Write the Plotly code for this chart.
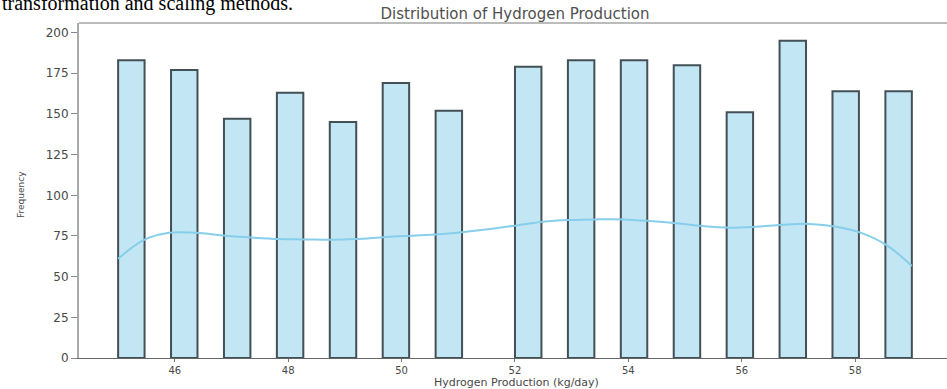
import math
import plotly.graph_objects as go

# Hydrogen production values (kg/day) and how often each occurs
production = [45, 46, 47, 48, 49, 50, 51, 52, 53, 54, 55, 56, 57, 58, 59]
frequency = [183, 177, 147, 163, 145, 169, 152, 179, 183, 183, 180, 151, 195, 164, 164]

# Smoothed density curve (scaled to counts), sampled along the x axis
kde_x = [45.0, 45.45, 45.9, 46.36, 46.9, 47.36, 47.83, 48.3, 48.77, 49.19, 49.72,
         50.18, 50.66, 51.13, 51.6, 52.03, 52.5, 52.97, 53.44, 53.9, 54.38, 54.85,
         55.3, 55.79, 56.26, 56.72, 57.2, 57.67, 58.13, 58.58, 59.0]
kde_y = [61, 72.5, 77, 77, 75.2, 74, 73.1, 72.9, 72.7, 73.1, 74.4,
         75.2, 76, 77.6, 79.5, 81.5, 83.8, 84.8, 85.2, 85.2, 84.2, 82.8,
         81.1, 80.1, 80.7, 81.9, 82.4, 80.7, 76.6, 68.8, 56.5]

# 30 equal-width bins spanning the data range
n_bins = 30
lo, hi = min(production), max(production)
bin_w = (hi - lo) / n_bins
bin_left = [lo + min(int(math.floor((v - lo) / bin_w + 1e-9)), n_bins - 1) * bin_w
            for v in production]

W, H = 947, 389
L, R, T, B = 79, 0, 23, 31
plot_w, plot_h = W - L - R, H - T - B


def px_to_paper_y(py):
    return 1 + (T - py) / plot_h


def px_to_paper_x(px):
    return (px - L) / plot_w


fig = go.Figure()
fig.add_trace(go.Bar(
    x=bin_left, y=frequency, width=bin_w, offset=0,
    marker=dict(color="rgba(135,206,235,0.5)",
                line=dict(color="rgba(50,62,68,0.9)", width=2)),
    hoverinfo="x+y", showlegend=False,
))
fig.add_trace(go.Scatter(
    x=kde_x, y=kde_y, mode="lines", line=dict(color="#87CEEB", width=2, shape="spline"),
    showlegend=False,
))

grey_text = "#484848"

fig.update_layout(
    width=W, height=H,
    margin=dict(l=L, r=R, t=T, b=B),
    paper_bgcolor="white", plot_bgcolor="white",
    title=dict(text="Distribution of Hydrogen Production",
               font=dict(family="DejaVu Sans", size=15, color="#505050"),
               x=515 / W, xanchor="center", xref="container",
               y=(H - 14) / H, yanchor="middle", yref="container"),
    xaxis=dict(range=[44.31, 59.62], tickmode="array",
               tickvals=[46, 48, 50, 52, 54, 56, 58],
               ticktext=["46", "48", "50", "52", "54", "56", "58"],
               showgrid=False, zeroline=False,
               showline=True, linecolor="#666666", linewidth=1.2,
               ticks="outside", ticklen=3, tickcolor="#777777",
               tickfont=dict(family="DejaVu Sans", size=10, color=grey_text)),
    yaxis=dict(range=[0, 205.9], tickmode="linear", tick0=0, dtick=25,
               showgrid=False, zeroline=False,
               showline=True, linecolor="#aaaaaa", linewidth=2,
               ticks="outside", ticklen=6, tickcolor="#888888",
               tickfont=dict(family="DejaVu Sans", size=12, color=grey_text)),
    shapes=[dict(type="line", xref="paper", yref="paper", x0=0, x1=1, y0=1, y1=1,
                 line=dict(color="#bbbbbb", width=2))],
    annotations=[
        dict(text="transformation and scaling methods.",
             xref="paper", yref="paper",
             x=px_to_paper_x(0), xanchor="left",
             y=px_to_paper_y(17), yanchor="bottom",
             showarrow=False,
             font=dict(family="Liberation Serif", size=20, color="black")),
        dict(text="Hydrogen Production (kg/day)",
             xref="paper", yref="paper",
             x=px_to_paper_x(516), xanchor="center",
             y=px_to_paper_y(382.5), yanchor="middle",
             showarrow=False,
             font=dict(family="DejaVu Sans", size=11, color=grey_text)),
        dict(text="Frequency", textangle=-90,
             xref="paper", yref="paper",
             x=px_to_paper_x(21), xanchor="center",
             y=px_to_paper_y(195), yanchor="middle",
             showarrow=False,
             font=dict(family="DejaVu Sans", size=9, color=grey_text)),
    ],
)

fig.write_html("out.html")
